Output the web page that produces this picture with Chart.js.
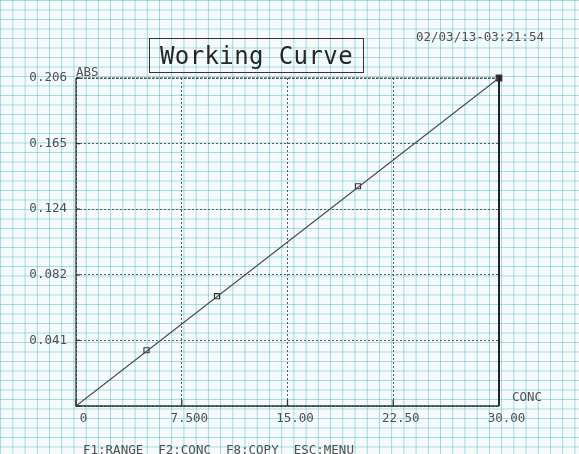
<!DOCTYPE html>
<html>
<head>
<meta charset="utf-8">
<script src="https://cdn.jsdelivr.net/npm/chart.js@4/dist/chart.umd.min.js"></script>
<style>
  html, body {
    margin: 0;
    padding: 0;
  }
  body {
    width: 579px;
    height: 454px;
    overflow: hidden;
    position: relative;
    background-color: #f7fafa;
    background-image:
      linear-gradient(to right, rgba(90, 195, 208, 0.6) 1px, transparent 1px),
      linear-gradient(to bottom, rgba(90, 195, 208, 0.55) 1px, transparent 1px);
    background-size: 12.23px 9.5px;
    background-position: 12.4px 0px;
    font-family: "DejaVu Sans Mono", monospace;
  }
  #chart {
    position: absolute;
    left: 0;
    top: 0;
  }
  .txt {
    position: absolute;
    color: #505050;
    font-size: 12.5px;
    white-space: pre;
    line-height: 1;
  }
  #title {
    position: absolute;
    left: 149px;
    top: 38px;
    width: 213px;
    height: 33px;
    border: 1px solid #333;
    font-size: 24px;
    line-height: 35px;
    text-align: center;
    color: #262626;
    letter-spacing: 0.4px;
  }
</style>
</head>
<body>
<canvas id="chart" width="579" height="454"></canvas>
<div id="title">Working Curve</div>
<div class="txt" style="left:416px; top:31px;">02/03/13-03:21:54</div>
<div class="txt" style="left:76px; top:66px;">ABS</div>
<div class="txt" style="left:512px; top:391px;">CONC</div>
<div class="txt" style="left:83px; top:444px;">F1:RANGE  F2:CONC  F8:COPY  ESC:MENU</div>

<script>
// standard points (concentration / absorbance)
const concValues = [5, 10, 20, 30];
const absValues = [0.035, 0.069, 0.138, 0.206];

// fitted working curve
const fitConc = [0, 30];
const fitAbs = [0, 0.206];

// axis ticks
const xTicks = [0, 7.5, 15, 22.5, 30];
const xTickLabels = ["0", "7.500", "15.00", "22.50", "30.00"];
const yTicks = [0, 0.0412, 0.0824, 0.1236, 0.1648, 0.206];
const yTickLabels = ["", "0.041", "0.082", "0.124", "0.165", "0.206"];

const ink = "#333";

// frame + small tick stubs, like the printout
const framePlugin = {
    id: "frame",
    afterDatasetsDraw(chart) {
        const ctx = chart.ctx;
        const a = chart.chartArea;
        const xs = chart.scales.x;
        const ys = chart.scales.y;
        ctx.save();
        ctx.strokeStyle = ink;
        ctx.setLineDash([]);
        ctx.lineWidth = 1.3;
        ctx.beginPath();
        ctx.moveTo(a.left, a.top);
        ctx.lineTo(a.left, a.bottom);
        ctx.lineTo(a.right, a.bottom);
        ctx.stroke();
        ctx.lineWidth = 2;
        ctx.strokeStyle = "#222";
        ctx.beginPath();
        ctx.moveTo(a.right, a.top);
        ctx.lineTo(a.right, a.bottom);
        ctx.stroke();
        ctx.lineWidth = 1.2;
        ctx.strokeStyle = "#444";
        ctx.setLineDash([3, 1]);
        ctx.beginPath();
        ctx.moveTo(a.left, a.top);
        ctx.lineTo(a.right, a.top);
        ctx.stroke();
        ctx.setLineDash([]);
        ctx.lineWidth = 1.3;
        ctx.strokeStyle = ink;
        ctx.beginPath();
        yTicks.forEach(v => {
            const y = ys.getPixelForValue(v);
            ctx.moveTo(a.left, y);
            ctx.lineTo(a.left + 4, y);
        });
        xTicks.forEach(v => {
            const x = xs.getPixelForValue(v);
            ctx.moveTo(x, a.bottom);
            ctx.lineTo(x, a.bottom - 6);
        });
        ctx.stroke();
        ctx.restore();
    }
};

const tickFont = { family: "DejaVu Sans Mono", size: 12.5 };

const data = {
    datasets: [
        {
            label: "curve",
            data: fitConc.map((c, i) => ({ x: c, y: fitAbs[i] })),
            borderColor: "#4a4a4a",
            borderWidth: 1.1,
            pointRadius: 0,
            showLine: true,
            clip: false,
        },
        {
            label: "standards",
            data: concValues.map((c, i) => ({ x: c, y: absValues[i] })),
            showLine: false,
            pointStyle: "rect",
            pointRadius: concValues.map((c, i) => i === concValues.length - 1 ? 4 : 3.6),
            pointBorderWidth: 1.1,
            pointBorderColor: "#333",
            pointBackgroundColor: concValues.map((c, i) => i === concValues.length - 1 ? "#222" : "rgba(0,0,0,0)"),
            clip: false,
        },
    ]
};

const config = {
    type: "scatter",
    data: data,
    options: {
        responsive: false,
        animation: false,
        devicePixelRatio: 1,
        layout: { padding: { left: 0, top: 78, right: 80, bottom: 0 } },
        plugins: {
            legend: { display: false },
            tooltip: { enabled: false },
        },
        scales: {
            x: {
                type: "linear",
                min: 0,
                max: 30,
                afterBuildTicks: s => { s.ticks = xTicks.map(v => ({ value: v })); },
                afterFit: s => { s.height = 48; },
                ticks: {
                    callback: (v, i) => xTickLabels[i],
                    autoSkip: false,
                    maxRotation: 0,
                    labelOffset: 7.5,
                    padding: 5,
                    color: "#505050",
                    font: tickFont,
                },
                grid: { color: "#5a5a5a", lineWidth: 1, drawTicks: false },
                border: { display: false, dash: [2, 2] },
            },
            y: {
                min: 0,
                max: 0.206,
                afterBuildTicks: s => { s.ticks = yTicks.map(v => ({ value: v })); },
                afterFit: s => { s.width = 76; },
                ticks: {
                    callback: (v, i) => yTickLabels[i],
                    autoSkip: false,
                    padding: 9,
                    color: "#505050",
                    font: tickFont,
                },
                grid: { color: "#5a5a5a", lineWidth: 1, drawTicks: false },
                border: { display: false, dash: [2, 2] },
            },
        },
    },
    plugins: [framePlugin],
};

const chart1 = new Chart(document.getElementById("chart"), config);
</script>
</body>
</html>
